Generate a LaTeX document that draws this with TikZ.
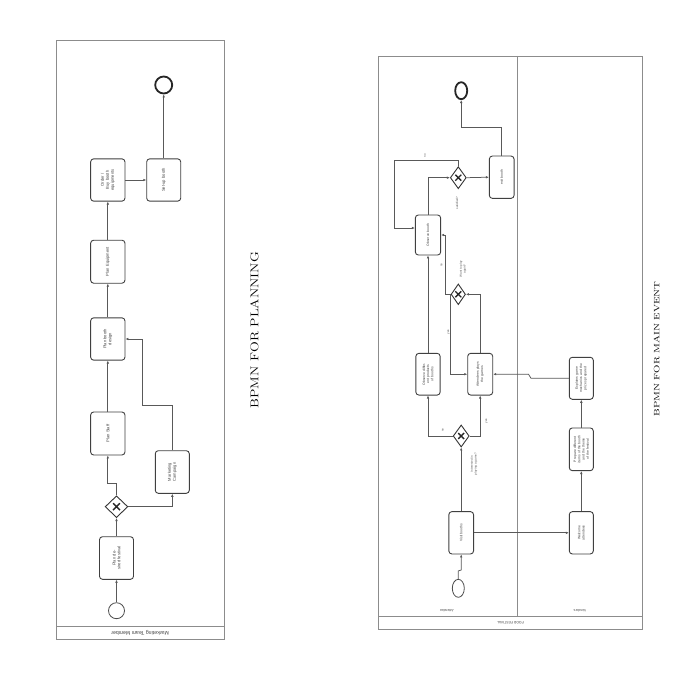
\documentclass[tikz,border=0pt]{standalone}
\usepackage{fontspec}
\newfontfamily\boxfont{Liberation Sans}
\usetikzlibrary{arrows.meta,shapes.geometric,shapes.misc}
\begin{document}
\begin{tikzpicture}[x=1pt,y=-1pt,
  pool/.style={draw=black!45, line width=0.9pt},
  task/.style 2 args={draw=black!75, line width=0.9pt, rounded corners=3pt, minimum width=#1pt, minimum height=#2pt, inner sep=0pt, fill=white},
  ttext/.style={rotate=90, align=center, font=\boxfont\fontsize{4.1}{4.9}\selectfont, text=black!75, inner sep=0pt},
  rtext/.style={rotate=90, align=center, font=\boxfont\fontsize{3.4}{4.2}\selectfont, text=black!75, inner sep=0pt},
  gw/.style 2 args={draw=black!80, line width=0.9pt, diamond, minimum width=#1pt, minimum height=#2pt, inner sep=0pt, fill=white},
  xm/.style={draw=black!85, cross out, line width=1.4pt, minimum width=#1pt, minimum height=#1pt, inner sep=0pt},
  flow/.style={draw=black!65, line width=0.75pt, -{Latex[length=3pt,width=2.6pt]}},
  startev/.style 2 args={draw=black!70, line width=0.8pt, ellipse, minimum width=#1pt, minimum height=#2pt, inner sep=0pt},
  endev/.style 2 args={draw=black!85, line width=1.8pt, ellipse, minimum width=#1pt, minimum height=#2pt, inner sep=0pt},
  lbl/.style={rotate=90, font=\boxfont\fontsize{3}{3.6}\selectfont, text=black!65, align=center, inner sep=0pt},
  lanelbl/.style={rotate=180, font=\boxfont\fontsize{#1}{#1}\selectfont, text=black!75, inner sep=0pt}
]
\useasboundingbox[fill=white] (0,0) rectangle (695,695);

% ================= LEFT: PLANNING =================
\draw[pool] (56,40) rectangle (224,639);
\draw[pool] (56,626.7) -- (224,626.7);
\node[lanelbl=5.2] (l1) at (140,633) {Marketing Team Member};

\node[startev={16}{16}] (s1) at (116.5,610.7) {};
\node[task={34}{42.6}] (pdf) at (116.5,558) {};
\node[ttext, text width=30pt] at (pdf) {Plan desired festival};
\node[gw={22.7}{21.7}] (g1) at (116.5,506.7) {};
\node[xm=5.5] at (g1) {};
\node[task={34.3}{43}] (ps) at (107.8,433.5) {};
\node[ttext, text width=34pt] at (ps) {Plan Staff};
\node[task={34}{42.6}] (mc) at (172.3,472) {};
\node[ttext, text width=30pt] at (mc) {Marketing Campaign};
\node[task={34.3}{42.3}] (pbd) at (107.8,339) {};
\node[ttext, text width=26pt] at (pbd) {Plan booth design};
\node[task={34.3}{43}] (pe) at (107.8,261.7) {};
\node[ttext, text width=34pt] at (pe) {Plan Equipment};
\node[task={34.3}{42.3}] (ob) at (107.8,180) {};
\node[ttext, text width=26pt] at (ob) {Order / Buy booth equipments};
\node[task={34}{42.3}] (sb) at (163.7,180) {};
\node[ttext, text width=34pt] at (sb) {Set-up booth};
\node[endev={17}{17}] (e1) at (163.7,85) {};

\draw[flow] (s1.north) -- (pdf.south);
\draw[flow] (pdf.north) -- (g1.south);
\draw[flow] (g1.north) |- (107.8,483.3) -- (ps.south);
\draw[flow] (g1.east) -| (mc.south);
\draw[flow] (mc.north) |- (142.3,405) |- (pbd.east);
\draw[flow] (ps.north) -- (pbd.south);
\draw[flow] (pbd.north) -- (pe.south);
\draw[flow] (pe.north) -- (ob.south);
\draw[flow] (ob.east) -- (sb.west);
\draw[flow] (sb.north) -- (e1.south);

\node[rotate=90, font=\fontsize{11.3}{13}\selectfont] (t1) at (254.5,330) {\scalebox{1.25}[1]{BPMN FOR PLANNING}};

% ================= RIGHT: MAIN EVENT =================
\draw[pool] (378,56) rectangle (642,629);
\draw[pool] (378,616.7) -- (642,616.7);
\draw[pool] (517,56) -- (517,616.7);
\node[lanelbl=3.4] (la) at (446.7,611) {Attendee};
\node[lanelbl=3.4] (lv) at (580,611) {Vendors};
\node[lanelbl=3.4] (lp) at (510.5,622.8) {FOOD FESTIVAL};

\node[startev={12}{18}] (s2) at (458.3,588.3) {};
\node[task={24.7}{42.3}] (vb) at (461.2,532.8) {};
\node[rtext, text width=36pt] at (vb) {Visit booths};
\node[gw={16}{22}] (g2) at (461.2,436) {};
\node[xm=4.5] at (g2) {};
\node[task={24.3}{41.7}] (op) at (428,374.2) {};
\node[rtext, text width=28pt] at (op) {Observe different products of booths};
\node[task={25}{41.7}] (ap) at (480.2,374.2) {};
\node[rtext, text width=30pt] at (ap) {Attendees plays the games};
\node[gw={14.4}{20.7}] (g3) at (458.3,294.3) {};
\node[xm=4.5] at (g3) {};
\node[task={25.3}{40}] (tb) at (428,235) {};
\node[rtext, text width=34pt] at (tb) {Observe booth};
\node[gw={16}{22}] (g4) at (458.3,177.7) {};
\node[xm=4.5] at (g4) {};
\node[task={24.7}{42.3}] (eb) at (501.7,177.2) {};
\node[rtext, text width=34pt] at (eb) {exit booth};
\node[endev={12}{17}] (e2) at (461.2,90.7) {};
\node[task={24}{42.3}] (wa) at (581.3,532.8) {};
\node[rtext, text width=30pt] at (wa) {Welcome attendees};
\node[task={24}{42.7}] (pr) at (581.3,449.3) {};
\node[rtext, text width=30pt] at (pr) {Prepare different items of the booth and the theme of the festival};
\node[task={24}{42}] (ex) at (581.3,378.3) {};
\node[rtext, text width=30pt] at (ex) {Explains game mechanics and the prizes prepared};

\draw[flow] (s2.north) -- ++(0,-8) -- (461.2,570) -- (vb.south);
\draw[flow] (vb.north) -- (g2.south);
\node[lbl] (q1) at (474,464) {Interested in\\ playing a game?};
\draw[flow] (g2.west) -| (op.south);
\node[lbl] (n1) at (442.7,430) {no};
\draw[flow] (g2.east) -| (ap.south);
\node[lbl] (y1) at (486.7,421) {yes};
\draw[flow] (ap.north) |- (g3.east);
\draw[flow] (g3.west) |- (ap.west);
\node[lbl] (y2) at (448.5,332) {yes};
\draw[flow] (g3.west) -- (445,294.3) |- (tb.east);
\node[lbl] (n2) at (441.5,265) {no};
\node[lbl] (q2) at (463,269) {Want to play\\ again?};
\draw[flow] (op.north) -- (tb.south);
\draw[flow] (tb.north) |- (g4.west);
\draw[flow] (g4.east) -- (eb.west);
\draw[flow] (g4.north) |- (394,160) |- ([yshift=7pt]tb.west);
\node[lbl] (n3) at (425,156) {no};
\node[lbl] (q3) at (457,203) {satisfied?};
\draw[flow] (eb.north) |- (461.2,127.3) -- (e2.south);
\draw[flow] (vb.east) -- (wa.west);
\draw[flow] (wa.north) -- (pr.south);
\draw[flow] (pr.north) -- (ex.south);
\draw[flow] (ex.west) -- (531,378.3) -- (528.5,374.2) -- (ap.east);

\node[rotate=90, font=\fontsize{7.8}{9}\selectfont] (t2) at (656.7,349) {\scalebox{1.3}[1]{BPMN FOR MAIN EVENT}};
\end{tikzpicture}
\end{document}
